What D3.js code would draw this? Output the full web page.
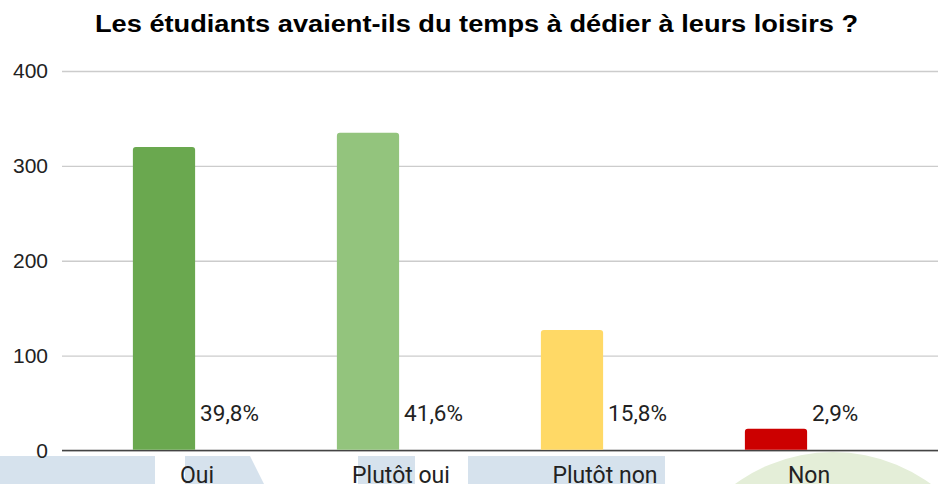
<!DOCTYPE html>
<html>
<head>
<meta charset="utf-8">
<script src="https://cdn.jsdelivr.net/npm/d3@7"></script>
<style>
  body { margin: 0; background: #fff; }
  svg { display: block; }
</style>
</head>
<body>
<svg id="chart"></svg>
<script>
const categories = ['Oui', 'Plutôt oui', 'Plutôt non', 'Non'];
const values = [320, 335, 127, 23];
const barColors = ['#6aa84f', '#93c47d', '#ffd966', '#cc0000'];
const yTicks = [0, 100, 200, 300, 400];
const title = 'Les étudiants avaient-ils du temps à dédier à leurs loisirs ?';

const w = 938;
const h = 484;
const padLeft = 62;
const plotRight = 878;
const padTop = 71;
const baseY = 450.5;

const svg = d3.select('#chart').attr('width', w).attr('height', h);

// faint background shapes seen under the axis labels
const bg = svg.append('g');
bg.append('rect').attr('x', 0).attr('y', 456).attr('width', 155).attr('height', 30).attr('fill', '#d6e2ed');
bg.append('path').attr('d', 'M185,456 L250,456 L264,484 L185,484 Z').attr('fill', '#d6e2ed');
bg.append('rect').attr('x', 358).attr('y', 456).attr('width', 57).attr('height', 30).attr('fill', '#d6e2ed');
bg.append('rect').attr('x', 468).attr('y', 456).attr('width', 197).attr('height', 30).attr('fill', '#d6e2ed');
bg.append('circle').attr('cx', 833).attr('cy', 618).attr('r', 166).attr('fill', '#e4eed8');

const x = d3.scaleBand()
  .domain(categories)
  .range([padLeft, plotRight])
  .paddingInner(0.695)
  .paddingOuter(0.3475);

const y = d3.scaleLinear()
  .domain([0, 400])
  .range([baseY, padTop]);

// gridlines + tick labels
const yAxis = d3.axisLeft(y)
  .tickValues(yTicks)
  .tickSize(-(w - padLeft))
  .tickPadding(14)
  .tickFormat(d3.format('d'));

const gy = svg.append('g')
  .attr('transform', 'translate(' + padLeft + ',0)')
  .call(yAxis);
gy.select('.domain').remove();
gy.selectAll('.tick line').attr('stroke', '#cccccc').attr('stroke-width', 1.3);
gy.selectAll('.tick text')
  .attr('fill', '#222')
  .style('font-family', '"Liberation Sans", Arial, sans-serif')
  .style('font-size', '21px');

// baseline
svg.append('line')
  .attr('x1', padLeft).attr('x2', w)
  .attr('y1', y(0)).attr('y2', y(0))
  .attr('stroke', '#444').attr('stroke-width', 1.6);

const data = categories.map((c, i) => ({cat: c, value: values[i], color: barColors[i]}));
const total = d3.sum(values);

const barPath = d => {
  const x0 = x(d.cat), x1 = x0 + x.bandwidth();
  const y0 = y(0) - 0.8, y1 = y(d.value);
  const r = 3;
  return 'M' + x0 + ',' + y0 +
    ' L' + x0 + ',' + (y1 + r) +
    ' Q' + x0 + ',' + y1 + ' ' + (x0 + r) + ',' + y1 +
    ' L' + (x1 - r) + ',' + y1 +
    ' Q' + x1 + ',' + y1 + ' ' + x1 + ',' + (y1 + r) +
    ' L' + x1 + ',' + y0 + ' Z';
};

svg.append('g').selectAll('path')
  .data(data)
  .enter()
  .append('path')
  .attr('d', barPath)
  .attr('fill', d => d.color);

// percentage labels to the right of each bar
svg.append('g').selectAll('text')
  .data(data)
  .enter()
  .append('text')
  .attr('x', d => x(d.cat) + x.bandwidth() + 5)
  .attr('y', y(0) - 29.5)
  .attr('fill', '#222')
  .style('font-family', 'Roboto, sans-serif')
  .style('font-size', '22.5px')
  .text(d => (d.value / total * 100).toFixed(1).replace('.', ',') + '%');

// category labels, centred on bar + label group
svg.append('g').selectAll('text')
  .data(data)
  .enter()
  .append('text')
  .attr('x', d => x(d.cat) + x.bandwidth() / 2 + 33)
  .attr('y', 483)
  .attr('text-anchor', 'middle')
  .attr('fill', '#222')
  .style('font-family', 'Roboto, sans-serif')
  .style('font-size', '23px')
  .text(d => d.cat);

// title
svg.append('text')
  .attr('x', 476.5)
  .attr('y', 32)
  .attr('text-anchor', 'middle')
  .attr('fill', '#000')
  .attr('textLength', 763)
  .attr('lengthAdjust', 'spacingAndGlyphs')
  .style('font-family', '"Liberation Sans", Arial, sans-serif')
  .style('font-weight', 'bold')
  .style('font-size', '23.5px')
  .text(title);
</script>
</body>
</html>
